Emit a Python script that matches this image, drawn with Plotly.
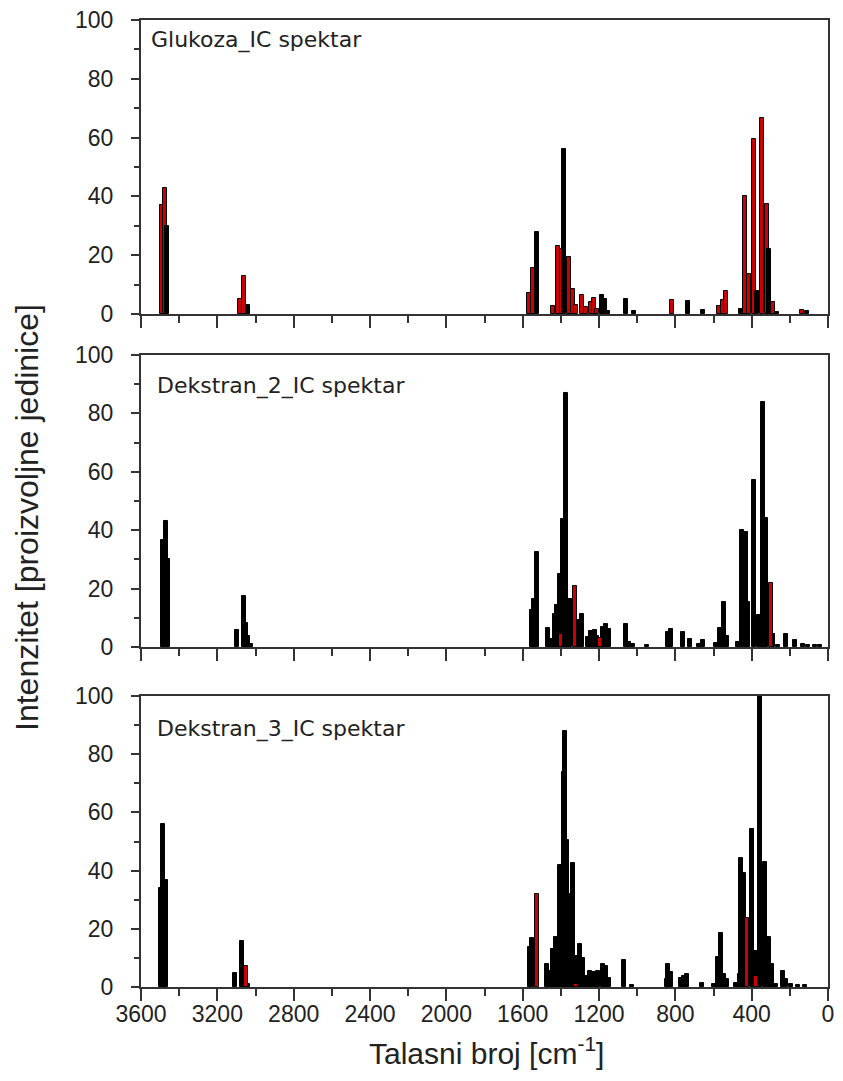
import plotly.graph_objects as go

# ---------------- data ----------------
# Panel 1: Glukoza_IC spektar
glukoza_red_wn = [3490, 3476, 3081, 3060, 1565, 1544, 1439, 1416, 1393, 1357, 1336, 1321,
                  1290, 1266, 1244, 1228, 1208, 817, 573, 552, 534, 437, 412, 390, 344, 320, 290, 138]
glukoza_red_int = [37, 43, 5.2, 13, 7.2, 15.5, 2.8, 23, 22, 19.5, 8.5, 3.2,
                   6.5, 2.3, 4, 5.4, 1.7, 4.9, 2.8, 4.8, 7.7, 40, 13.6, 59.5, 66.6, 37.5, 4.2, 1.4]
glukoza_black_wn = [3462, 3041, 1526, 1384, 1182, 1167, 1151, 1058, 1017, 734, 657, 457,
                    370, 308, 267, 108]
glukoza_black_int = [30, 3, 28, 56, 6.5, 5.1, 1.1, 5, 0.9, 4.3, 1.5, 1.7,
                     7.7, 22, 0.6, 0.9]

# Panel 2: Dekstran_2_IC spektar
dek2_black_wn = [3484, 3471, 3457, 3095, 3061, 3049, 3037, 3022,
                 1552, 1543, 1526, 1465, 1446, 1431, 1418, 1403, 1388, 1372, 1353, 1307, 1290,
                 1259, 1244, 1223, 1208, 1180, 1163, 1146, 1059, 1043, 1023, 950, 837, 822,
                 758, 724, 678, 657, 585, 565, 546, 529, 472, 452, 431, 417, 390, 364, 340,
                 323, 286, 260, 219, 174, 131, 105, 70, 40]
dek2_black_int = [36.6, 43.2, 30.3, 5.7, 17.4, 8.1, 3.7, 1.2,
                  12.8, 16.6, 32.6, 6.6, 2.9, 11.4, 14.3, 25, 44, 86.9, 16.6, 9.1, 11.4,
                  3.4, 5.5, 5.9, 3.7, 6.9, 8, 6.3, 8, 1.7, 1.1, 0.8, 5.1, 6.3,
                  5.1, 2.9, 1.1, 2.3, 1.4, 6.6, 15.4, 3.7, 1.7, 40, 39.4, 15.4, 57.1, 10.9, 84,
                  44.3, 4.6, 0.6, 4.3, 2.3, 1.1, 0.6, 0.8, 0.8]
dek2_red_wn = [1400, 1328, 1196, 301]
dek2_red_int = [4.3, 20.8, 3.2, 22]

# Panel 3: Dekstran_3_IC spektar
dek3_black_wn = [3494, 3483, 3469, 3107, 3072, 3037,
                 1562, 1549, 1471, 1454, 1439, 1424, 1405, 1386, 1377, 1367, 1348, 1336, 1317,
                 1300, 1285, 1266, 1249, 1226, 1203, 1178, 1161, 1146, 1069, 1028, 846, 838,
                 822, 771, 755, 740, 662, 596, 575, 560, 545, 529, 482, 462, 457, 442, 396,
                 375, 354, 329, 310, 293, 273, 237, 218, 196, 157, 120]
dek3_black_int = [34, 55.9, 36.9, 4.9, 15.9, 1,
                  13.6, 16.7, 7.8, 5.5, 13, 17.2, 42, 74, 88, 50.6, 32, 42.5, 10.7,
                  14.7, 10, 3.8, 5.5, 5, 5.5, 7.8, 7.2, 3.2, 9.2, 0.7, 2.6, 7.8,
                  5, 3.2, 3.8, 4.4, 1.5, 0.9, 10.3, 18.7, 4.4, 2.6, 1.5, 4.4, 44.3, 39.1, 54.4,
                  12.4, 100, 42.9, 17.2, 7.8, 0.9, 5.5, 2.6, 0.9, 0.7, 0.7]
dek3_red_wn = [3048, 1526, 1318, 426, 377]
dek3_red_int = [7.2, 32, 1, 23.7, 3.8]

panel_titles = ["Glukoza_IC spektar", "Dekstran_2_IC spektar", "Dekstran_3_IC spektar"]
x_tick_vals = [3600, 3200, 2800, 2400, 2000, 1600, 1200, 800, 400, 0]
y_tick_vals = [0, 20, 40, 60, 80, 100]

# ---------------- styling ----------------
RED = "#cc0000"
BLACK = "#000000"
BAR_W = 21
FONT = "Liberation Sans"
AX_COL = "#333333"
TXT_COL = "#222222"

fig = go.Figure()

def add_bars(wn, val, color, xa, ya):
    fig.add_trace(go.Bar(x=wn, y=val, width=BAR_W, xaxis=xa, yaxis=ya,
                         marker=dict(color=color, line=dict(color=BLACK, width=1)),
                         showlegend=False, hoverinfo="x+y"))

# panel 1: red then black on top
add_bars(glukoza_red_wn, glukoza_red_int, RED, "x", "y")
add_bars(glukoza_black_wn, glukoza_black_int, BLACK, "x", "y")
# panel 2 / 3: black then red on top
add_bars(dek2_black_wn, dek2_black_int, BLACK, "x2", "y2")
add_bars(dek2_red_wn, dek2_red_int, RED, "x2", "y2")
add_bars(dek3_black_wn, dek3_black_int, BLACK, "x3", "y3")
add_bars(dek3_red_wn, dek3_red_int, RED, "x3", "y3")

domains = [[0.696, 1.0], [0.3516, 0.6536], [0.0, 0.3009]]

def xaxis(anchor, show_labels):
    return dict(anchor=anchor, range=[3600, 0], domain=[0, 1], automargin=False,
                tickvals=x_tick_vals, showticklabels=show_labels,
                ticks="outside", ticklen=12, tickwidth=1.5, tickcolor=AX_COL,
                minor=dict(dtick=200, tick0=0, ticks="outside", ticklen=7,
                           tickwidth=1.5, tickcolor=AX_COL),
                showline=True, linecolor=AX_COL, linewidth=2, mirror=True,
                showgrid=False, zeroline=False, ticklabelstandoff=-7,
                ticklabeloverflow="allow",
                tickfont=dict(family=FONT, size=23, color=TXT_COL))

def yaxis(anchor, dom):
    return dict(anchor=anchor, domain=dom, range=[0, 100], automargin=False,
                tickvals=y_tick_vals, ticks="outside", ticklen=8, tickwidth=1.5,
                tickcolor=AX_COL,
                minor=dict(dtick=10, tick0=0, ticks="outside", ticklen=5,
                           tickwidth=1.5, tickcolor=AX_COL),
                showline=True, linecolor=AX_COL, linewidth=2, mirror=True,
                showgrid=False, zeroline=False, ticklabelstandoff=13,
                ticklabeloverflow="allow",
                tickfont=dict(family=FONT, size=23, color=TXT_COL))

# the page body keeps its default 8px margin; size the figure so the page does not overflow
fig.update_layout(
    width=827, height=1065,
    margin=dict(l=133, r=7, t=12, b=86, autoexpand=False),
    paper_bgcolor="white", plot_bgcolor="white",
    barmode="overlay", bargap=0,
    xaxis=xaxis("y", False), yaxis=yaxis("x", domains[0]),
    xaxis2=xaxis("y2", False), yaxis2=yaxis("x2", domains[1]),
    xaxis3=xaxis("y3", True), yaxis3=yaxis("x3", domains[2]),
)

title_y = [0.979, 0.6215, 0.2668]
title_x = [0.012, 0.02, 0.02]
for t, ty, tx in zip(panel_titles, title_y, title_x):
    fig.add_annotation(text=t, xref="paper", yref="paper", x=tx, y=ty,
                       xanchor="left", yanchor="middle", showarrow=False,
                       font=dict(family="DejaVu Sans", size=22, color=TXT_COL))

fig.add_annotation(text="Intenzitet [proizvoljne jedinice]", textangle=-90,
                   xref="paper", yref="paper", x=-0.166, y=0.486,
                   xanchor="center", yanchor="middle", showarrow=False,
                   font=dict(family=FONT, size=32, color=TXT_COL))
fig.add_annotation(text="Talasni broj [cm<sup>-1</sup>]",
                   xref="paper", yref="paper", x=0.503, y=-0.0665,
                   xanchor="center", yanchor="middle", showarrow=False,
                   font=dict(family=FONT, size=30, color=TXT_COL))

fig.write_html("out.html")
